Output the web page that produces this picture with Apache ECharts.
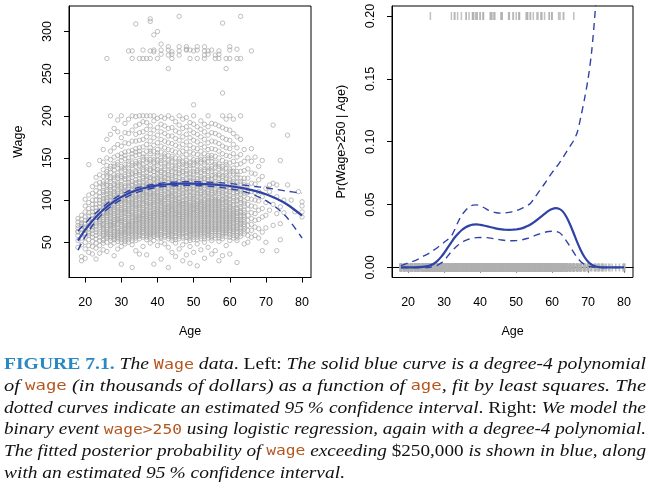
<!DOCTYPE html>
<html>
<head>
<meta charset="utf-8">
<script src="https://cdn.jsdelivr.net/npm/echarts@6.0.0/dist/echarts.min.js"></script>
<style>
  html, body { margin: 0; padding: 0; background: #fff; }
  #chart { width: 649px; height: 491px; }
</style>
</head>
<body>
<div id="chart"></div>
<script>
// Wage data: each row is [age, wage, wage, ...]
const wagesAge18to29 = [
    [18, 44, 52, 58, 63, 67, 70, 74, 78, 62],
    [19, 28, 33, 47, 55, 61, 65, 69, 73, 77, 82, 71],
    [20, 31, 42, 50, 56, 60, 64, 68, 72, 76, 80, 86, 93, 101, 66],
    [21, 38, 46, 53, 58, 62, 66, 70, 73, 77, 81, 85, 90, 97, 106, 142, 60],
    [22, 36, 45, 51, 56, 60, 64, 67, 71, 74, 78, 82, 86, 90, 95, 100, 108, 116, 69],
    [23, 30, 43, 49, 54, 58, 62, 65, 69, 72, 75, 79, 83, 87, 91, 95, 100, 105, 111, 119, 127, 80],
    [24, 37, 46, 52, 56, 60, 63, 67, 70, 73, 77, 80, 84, 88, 92, 96, 100, 104, 109, 115, 121, 130, 147, 75],
    [25, 41, 49, 54, 58, 62, 65, 69, 72, 75, 79, 82, 86, 90, 94, 98, 102, 106, 111, 116, 122, 128, 136, 145, 160, 84],
    [26, 39, 50, 55, 59, 63, 67, 70, 73, 77, 80, 84, 88, 91, 95, 99, 103, 107, 112, 117, 122, 128, 134, 141, 150, 172, 86],
    [27, 46, 52, 57, 61, 64, 68, 71, 75, 78, 82, 85, 89, 93, 96, 100, 104, 108, 112, 117, 122, 127, 133, 140, 148, 158, 178, 200],
    [28, 34, 49, 55, 59, 63, 66, 70, 73, 77, 80, 84, 87, 91, 95, 98, 102, 106, 110, 114, 119, 124, 130, 136, 143, 151, 162, 185],
    [29, 42, 51, 56, 60, 64, 67, 71, 75, 78, 82, 85, 89, 93, 96, 100, 104, 108, 112, 117, 121, 126, 132, 138, 145, 153, 166, 181, 195]
];
const wagesAge30to44 = [
    [30, 24, 45, 53, 58, 62, 66, 69, 73, 76, 80, 83, 87, 91, 94, 98, 102, 106, 110, 114, 118, 123, 128, 134, 140, 147, 155, 164, 174, 200],
    [31, 48, 54, 59, 63, 66, 70, 74, 77, 81, 84, 88, 92, 95, 99, 103, 107, 111, 115, 120, 125, 130, 136, 142, 149, 157, 168, 180, 191],
    [32, 50, 56, 60, 64, 68, 71, 75, 79, 82, 86, 90, 93, 97, 101, 105, 109, 113, 117, 121, 126, 131, 137, 143, 150, 158, 167, 179, 196],
    [33, 20, 47, 55, 60, 64, 68, 72, 76, 79, 83, 87, 90, 94, 98, 102, 105, 109, 113, 117, 122, 127, 132, 138, 144, 151, 159, 170, 183, 200],
    [34, 40, 52, 58, 62, 66, 70, 74, 77, 81, 85, 88, 92, 96, 99, 103, 107, 111, 115, 119, 124, 129, 134, 140, 146, 153, 161, 170, 178, 188, 199],
    [35, 36, 54, 59, 63, 67, 71, 75, 78, 82, 86, 89, 93, 97, 100, 104, 108, 112, 116, 120, 125, 130, 135, 141, 147, 154, 162, 171, 180, 190, 200],
    [36, 45, 56, 61, 65, 68, 72, 76, 80, 83, 87, 91, 94, 98, 102, 105, 109, 113, 117, 121, 126, 131, 136, 142, 148, 155, 163, 172, 181, 193, 200],
    [37, 35, 53, 58, 62, 66, 70, 74, 78, 81, 85, 89, 92, 96, 100, 103, 107, 111, 115, 119, 124, 128, 133, 139, 145, 151, 158, 166, 175, 184, 192, 200],
    [38, 49, 57, 61, 65, 69, 73, 77, 80, 84, 88, 91, 95, 99, 102, 106, 110, 114, 118, 122, 127, 131, 137, 142, 148, 155, 162, 170, 179, 188, 200],
    [39, 24, 52, 59, 63, 67, 71, 75, 79, 82, 86, 90, 93, 97, 101, 104, 108, 112, 116, 120, 124, 129, 134, 139, 145, 151, 158, 165, 174, 183, 194, 200],
    [40, 46, 55, 60, 64, 68, 72, 76, 80, 84, 87, 91, 95, 98, 102, 106, 110, 114, 118, 122, 126, 131, 136, 141, 147, 153, 160, 168, 177, 186, 197],
    [41, 30, 50, 57, 62, 66, 70, 74, 78, 81, 85, 89, 92, 96, 100, 104, 107, 111, 115, 119, 124, 128, 133, 138, 144, 150, 157, 164, 172, 181, 190, 199],
    [42, 48, 56, 61, 65, 69, 73, 77, 81, 84, 88, 92, 96, 99, 103, 107, 111, 115, 119, 123, 127, 132, 137, 143, 149, 155, 162, 170, 179, 188, 197],
    [43, 20, 44, 54, 59, 63, 67, 71, 75, 79, 83, 86, 90, 94, 98, 101, 105, 109, 113, 117, 121, 126, 130, 135, 141, 147, 153, 160, 168, 176, 185, 200],
    [44, 38, 52, 58, 62, 66, 70, 74, 78, 82, 86, 89, 93, 97, 101, 104, 108, 112, 116, 120, 125, 129, 134, 140, 146, 152, 159, 167, 176, 186, 197]
];
const wagesAge45to59 = [
    [45, 33, 49, 56, 61, 65, 69, 73, 77, 81, 84, 88, 92, 96, 99, 103, 107, 111, 115, 119, 123, 128, 133, 138, 144, 150, 157, 165, 173, 182, 193],
    [46, 42, 54, 60, 64, 68, 72, 76, 80, 83, 87, 91, 95, 98, 102, 106, 110, 114, 118, 122, 127, 132, 137, 143, 149, 156, 163, 171, 180, 189, 200],
    [47, 28, 47, 57, 62, 66, 70, 74, 78, 81, 85, 89, 93, 96, 100, 104, 108, 112, 116, 120, 124, 129, 134, 139, 145, 151, 158, 166, 175, 185, 196],
    [48, 35, 51, 58, 63, 67, 71, 75, 79, 83, 86, 90, 94, 98, 101, 105, 109, 113, 117, 121, 126, 131, 136, 141, 147, 154, 161, 169, 178, 187, 198],
    [49, 25, 45, 55, 60, 64, 68, 72, 76, 80, 84, 87, 91, 95, 99, 102, 106, 110, 114, 118, 123, 127, 132, 138, 144, 150, 157, 165, 174, 183, 192],
    [50, 38, 53, 59, 63, 67, 71, 75, 79, 83, 87, 90, 94, 98, 102, 105, 109, 113, 117, 122, 126, 131, 137, 142, 148, 155, 162, 171, 180, 190, 200, 213],
    [51, 22, 48, 56, 61, 65, 69, 73, 77, 81, 85, 88, 92, 96, 100, 104, 108, 112, 116, 120, 125, 130, 135, 141, 147, 154, 161, 169, 178, 187],
    [52, 41, 54, 60, 64, 68, 72, 76, 80, 84, 88, 92, 95, 99, 103, 107, 111, 115, 119, 124, 128, 133, 139, 145, 151, 158, 166, 175, 184, 194],
    [53, 31, 50, 57, 62, 66, 70, 74, 78, 82, 86, 89, 93, 97, 101, 105, 109, 113, 117, 121, 126, 131, 136, 142, 148, 155, 163, 172, 181, 190],
    [54, 44, 55, 60, 64, 68, 72, 76, 80, 84, 88, 92, 96, 100, 104, 108, 112, 116, 120, 124, 129, 134, 140, 146, 153, 160, 168, 177, 187, 200],
    [55, 36, 52, 58, 63, 67, 71, 75, 79, 83, 87, 91, 95, 99, 103, 107, 111, 115, 119, 124, 129, 134, 140, 146, 153, 161, 170, 180, 191],
    [56, 40, 55, 61, 65, 69, 73, 77, 81, 85, 89, 93, 97, 101, 105, 109, 113, 118, 122, 127, 133, 139, 145, 152, 160, 169, 179, 190],
    [57, 28, 51, 58, 63, 67, 71, 75, 79, 83, 87, 91, 95, 99, 103, 108, 112, 116, 121, 126, 131, 137, 143, 150, 158, 167, 177, 188],
    [58, 34, 54, 60, 64, 68, 72, 76, 80, 84, 88, 92, 97, 101, 105, 109, 114, 118, 123, 128, 134, 140, 147, 155, 164, 174, 186, 200, 227],
    [59, 46, 57, 62, 66, 70, 74, 78, 82, 86, 90, 94, 99, 103, 107, 112, 116, 121, 126, 132, 138, 145, 153, 162, 172, 184, 196]
];
const wagesAge60to80 = [
    [60, 36, 52, 59, 64, 68, 72, 76, 80, 84, 88, 93, 97, 101, 106, 110, 115, 120, 125, 131, 137, 144, 152, 161, 171, 183, 200],
    [61, 55, 61, 65, 69, 74, 78, 82, 86, 90, 95, 99, 104, 109, 114, 119, 125, 131, 138, 146, 155, 166, 179, 196],
    [62, 26, 52, 58, 63, 68, 73, 77, 82, 86, 91, 95, 100, 105, 110, 115, 121, 127, 134, 142, 151, 162, 175],
    [63, 57, 63, 68, 73, 77, 82, 87, 92, 97, 102, 107, 113, 119, 126, 134, 143, 154, 172, 200],
    [64, 48, 60, 66, 71, 77, 82, 88, 93, 99, 105, 111, 118, 126, 135, 146, 160],
    [65, 50, 58, 64, 70, 76, 82, 89, 95, 102, 109, 117, 126, 137, 150],
    [66, 56, 64, 71, 78, 85, 93, 101, 110, 120, 132, 146, 161],
    [67, 58, 68, 76, 84, 92, 100, 109, 119, 131, 151],
    [68, 55, 66, 77, 88, 99, 110, 124, 140],
    [69, 40, 62, 80, 90, 104, 128, 147],
    [70, 50, 67, 82, 97, 114],
    [71, 88, 110, 118],
    [72, 70, 95, 120, 189],
    [73, 40, 84, 104, 118],
    [74, 53, 72, 92, 147],
    [75, 85, 100],
    [76, 118, 177],
    [77, 100],
    [78, 86],
    [79, 110],
    [80, 80, 86, 93, 98]
];
// the crowded middle of the cloud, more points per age
const wagesCrowdAge25to44 = [
    [25, 52, 60, 67, 71, 77, 85, 92, 100, 109, 119],
    [26, 57, 61, 65, 75, 82, 86, 93, 101, 110, 119, 131],
    [27, 55, 59, 66, 70, 73, 80, 87, 91, 98, 106, 115, 125, 137],
    [28, 53, 57, 61, 68, 72, 75, 82, 89, 93, 100, 108, 117, 127, 140],
    [29, 54, 58, 62, 66, 73, 77, 80, 87, 91, 98, 102, 110, 119, 129, 142],
    [30, 50, 56, 60, 64, 71, 75, 78, 85, 89, 96, 100, 108, 116, 126, 137, 151],
    [31, 51, 57, 61, 65, 68, 72, 79, 86, 90, 97, 101, 109, 117, 128, 139, 153],
    [32, 53, 58, 62, 66, 70, 73, 77, 84, 88, 95, 99, 107, 115, 124, 134, 146],
    [33, 52, 58, 62, 66, 70, 74, 81, 85, 92, 96, 100, 107, 111, 119, 130, 141, 155],
    [34, 55, 60, 64, 68, 72, 76, 79, 83, 90, 94, 101, 105, 113, 121, 132, 143, 157],
    [35, 57, 61, 65, 69, 73, 77, 80, 84, 91, 95, 102, 106, 114, 122, 133, 144, 158],
    [36, 58, 63, 67, 70, 74, 78, 82, 85, 89, 96, 100, 107, 111, 119, 128, 139, 151],
    [37, 56, 60, 64, 68, 72, 76, 80, 83, 87, 94, 98, 105, 109, 117, 126, 136, 148],
    [38, 55, 59, 63, 67, 71, 75, 79, 82, 86, 93, 97, 104, 108, 116, 125, 135, 145, 158],
    [39, 57, 61, 65, 69, 73, 77, 81, 84, 88, 95, 99, 106, 110, 118, 126, 137, 148],
    [40, 58, 62, 66, 70, 74, 78, 82, 86, 89, 93, 100, 104, 108, 116, 124, 133, 144, 156],
    [41, 55, 59, 64, 68, 72, 76, 80, 83, 87, 94, 98, 102, 109, 117, 126, 135, 147],
    [42, 58, 63, 67, 71, 75, 79, 83, 86, 90, 94, 101, 105, 113, 121, 130, 140, 152],
    [43, 57, 61, 65, 69, 73, 77, 81, 85, 88, 92, 96, 103, 107, 115, 124, 133, 144],
    [44, 55, 60, 64, 68, 72, 76, 80, 84, 88, 91, 95, 99, 106, 110, 118, 127, 137, 149]
];
const wagesCrowdAge45to64 = [
    [45, 53, 58, 63, 67, 71, 75, 79, 83, 86, 90, 94, 101, 105, 113, 121, 131, 141],
    [46, 57, 62, 66, 70, 74, 78, 82, 85, 89, 93, 97, 100, 108, 116, 125, 135, 146],
    [47, 55, 60, 64, 68, 72, 76, 80, 83, 87, 91, 95, 98, 106, 114, 122, 132, 142],
    [48, 56, 61, 65, 69, 73, 77, 81, 85, 88, 92, 96, 100, 107, 115, 124, 134, 144],
    [49, 52, 58, 62, 66, 70, 74, 78, 82, 86, 89, 93, 97, 104, 112, 121, 130, 141],
    [50, 56, 61, 65, 69, 73, 77, 81, 85, 89, 92, 96, 100, 107, 115, 124, 134, 145],
    [51, 53, 59, 63, 67, 71, 75, 79, 83, 87, 90, 94, 98, 106, 114, 122, 133, 144],
    [52, 57, 62, 66, 70, 74, 78, 82, 86, 90, 94, 97, 101, 109, 117, 126, 136, 148],
    [53, 54, 60, 64, 68, 72, 76, 80, 84, 88, 91, 95, 99, 107, 115, 124, 134, 145],
    [54, 58, 62, 66, 70, 74, 78, 82, 86, 90, 94, 98, 102, 110, 118, 127, 137, 150],
    [55, 55, 61, 65, 69, 73, 77, 81, 85, 89, 93, 97, 101, 109, 117, 126, 137, 150],
    [56, 58, 63, 67, 71, 75, 79, 83, 87, 91, 95, 99, 103, 111, 120, 130, 142],
    [57, 55, 61, 65, 69, 73, 77, 81, 85, 89, 93, 97, 101, 110, 119, 129, 140],
    [58, 57, 62, 66, 70, 74, 78, 82, 86, 90, 95, 99, 107, 116, 126, 137],
    [59, 60, 64, 68, 72, 76, 80, 84, 88, 92, 97, 101, 110, 119, 129, 142],
    [60, 56, 62, 66, 70, 74, 78, 82, 86, 91, 95, 104, 113, 123, 134],
    [61, 58, 63, 67, 72, 76, 80, 84, 88, 93, 102, 112, 122, 134],
    [62, 55, 61, 66, 70, 75, 80, 84, 89, 98, 108, 118, 130],
    [63, 60, 66, 71, 75, 80, 85, 90, 100, 110, 122],
    [64, 63, 69, 74, 80, 85, 96, 108, 121]
];
// wage > 250 : [age, wage]
const highEarners = [
    [34, 309], [38, 315], [38, 312], [39, 296], [40, 300], [41, 285], [46, 318], [58, 310], [63, 318],
    [32, 277], [33, 277], [36, 278], [38, 277], [39, 276], [39, 278], [41, 278], [43, 278], [44, 276],
    [46, 277], [48, 278], [48, 279], [49, 278], [50, 277], [51, 278], [53, 277], [54, 277], [55, 278],
    [57, 277], [60, 278], [62, 279], [66, 277],
    [43, 282], [46, 282], [48, 282], [51, 282], [53, 282], [60, 282],
    [26, 268], [33, 268], [35, 268], [36, 268], [37, 268], [38, 268], [40, 268], [44, 268], [49, 268],
    [51, 268], [53, 268], [56, 268], [57, 268], [59, 268], [60, 268], [62, 268], [63, 268],
    [41, 273], [43, 272], [44, 273], [46, 272], [53, 272], [54, 273], [56, 272], [57, 273],
    [43, 256], [59, 256]
];

// degree-4 polynomial fit (left)
const fitAges = [18, 20, 22, 25, 28, 31, 34, 37, 40, 43, 46, 49, 52, 55, 58, 61, 64, 67, 70, 73, 76, 80];
const fitWage = [51.9, 64.6, 75.4, 88.5, 98.5, 105.9, 111.3, 114.9, 117.4, 118.8, 119.5, 119.6, 119.3, 118.6, 117.6, 116.0, 113.9, 110.9, 107.0, 101.6, 94.5, 81.6];
const fitUpper = [63.1, 72.6, 81.0, 92.3, 101.7, 108.9, 114.1, 117.3, 119.6, 121.0, 121.7, 121.8, 121.5, 121.0, 120.4, 119.2, 117.7, 116.1, 114.6, 112.6, 110.5, 108.2];
const fitLower = [40.7, 56.6, 69.8, 84.7, 95.3, 102.9, 108.5, 112.5, 115.2, 116.6, 117.3, 117.4, 117.1, 116.2, 114.8, 112.8, 110.1, 105.7, 99.4, 90.6, 78.5, 55.0];

// logistic fit Pr(wage > 250 | age) (right), one value per year 18..80
const probAges = [18, 19, 20, 21, 22, 23, 24, 25, 26, 27, 28, 29, 30, 31, 32, 33, 34, 35, 36, 37, 38, 39, 40, 41, 42, 43, 44, 45, 46, 47, 48, 49,
    50, 51, 52, 53, 54, 55, 56, 57, 58, 59, 60, 61, 62, 63, 64, 65, 66, 67, 68, 69, 70, 71, 72, 73, 74, 75, 76, 77, 78, 79, 80];
const probFit = [0, 0, 0, 0, 0.0001, 0.0002, 0.0004, 0.0008, 0.0015, 0.0028, 0.0048, 0.0078, 0.0115, 0.0158, 0.0200, 0.0240,
    0.0272, 0.0300, 0.0320, 0.0333, 0.0340, 0.0342, 0.0339, 0.0334, 0.0327, 0.0320, 0.0313, 0.0307, 0.0303, 0.0300, 0.0299, 0.0300,
    0.0302, 0.0307, 0.0315, 0.0327, 0.0342, 0.0360, 0.0382, 0.0405, 0.0428, 0.0450, 0.0465, 0.0472, 0.0466, 0.0444, 0.0402, 0.0342,
    0.0272, 0.0200, 0.0135, 0.0083, 0.0046, 0.0022, 0.0009, 0.0003, 0.0001, 0, 0, 0, 0, 0, 0];
const probLower = [0, 0, 0, 0, 0, 0, 0, 0, 0.0002, 0.0007, 0.0015, 0.0032, 0.0055, 0.0090, 0.0125, 0.0155,
    0.0180, 0.0200, 0.0215, 0.0226, 0.0233, 0.0237, 0.0238, 0.0238, 0.0237, 0.0233, 0.0228, 0.0223, 0.0218, 0.0214, 0.0212, 0.0212,
    0.0213, 0.0217, 0.0222, 0.0230, 0.0240, 0.0251, 0.0262, 0.0272, 0.0280, 0.0286, 0.0288, 0.0287, 0.0278, 0.0250, 0.0210, 0.0165,
    0.0120, 0.0078, 0.0045, 0.0025, 0.0012, 0.0006, 0.0002, 0.0001, 0, 0, 0, 0, 0, 0, 0];
const upperAges = [18, 19, 20, 21, 22, 23, 24, 25, 26, 27, 28, 29, 30, 31, 32, 33, 34, 35, 36, 37, 38, 39, 40, 41, 42, 43, 44, 45,
    46, 47, 48, 49, 50, 51, 52, 53, 54, 55, 56, 57, 58, 59, 60, 61, 62, 63, 64, 65, 66, 67, 68, 69, 70, 71, 72, 73];
const probUpper = [0.0015, 0.0025, 0.0035, 0.0045, 0.0055, 0.0068, 0.0085, 0.0100, 0.0115, 0.0135, 0.0155, 0.0177, 0.0200, 0.0222,
    0.0250, 0.0305, 0.0370, 0.0420, 0.0455, 0.0483, 0.0496, 0.0498, 0.0492, 0.0477, 0.0460, 0.0447, 0.0438, 0.0433, 0.0432, 0.0434,
    0.0438, 0.0444, 0.0452, 0.0462, 0.0475, 0.0490, 0.0510, 0.0548, 0.0590, 0.0630, 0.0670, 0.0712, 0.0755, 0.0792, 0.0830, 0.0873,
    0.0920, 0.0965, 0.1010, 0.1075, 0.1200, 0.1340, 0.1500, 0.1720, 0.2050, 0.2500];

const xTicks = [20, 30, 40, 50, 60, 70, 80];
const wageTicks = [50, 100, 150, 200, 250, 300];
const probTicks = [0, 0.05, 0.10, 0.15, 0.20];

const captionLines = [
    [['b', 'FIGURE 7.1.'], ['i', ' The '], ['c', 'Wage'], ['i', ' data'], ['r', '. Left: '], ['i', 'The solid blue curve is a degree-4 polynomial']],
    [['i', 'of '], ['c', 'wage'], ['i', ' (in thousands of dollars) as a function of '], ['c', 'age'], ['i', ', fit by least squares. The']],
    [['i', 'dotted curves indicate an estimated 95\u2009% confidence interval'], ['r', '. Right: '], ['i', 'We model the']],
    [['i', 'binary event '], ['c', 'wage>250'], ['i', ' using logistic regression, again with a degree-4 polynomial.']],
    [['i', 'The fitted posterior probability of '], ['c', 'wage'], ['i', ' exceeding '], ['r', '$250,000'], ['i', ' is shown in blue, along']],
    [['i', 'with an estimated 95\u2009% confidence interval.']]
];

const BLUE = '#2f43a6';
const GREY = '#a6a6a6';
const FONT = '"Liberation Sans", Arial, sans-serif';

// build scatter + rugs
const mainPoints = [];
const rugBottom = [];
[wagesAge18to29, wagesAge30to44, wagesAge45to59, wagesAge60to80, wagesCrowdAge25to44, wagesCrowdAge45to64].forEach(rows => {
    rows.forEach(row => {
        const age = row[0];
        row.slice(1).forEach((w, i) => {
            mainPoints.push([age, w]);
            // jitter(age): spread marks within +-0.3 years
            rugBottom.push([age + (((i * 0.618) % 1) - 0.5) * 0.6, 0]);
        });
    });
});
const rugTop = highEarners.map((p, i) => [p[0] + (((i * 0.618) % 1) - 0.5) * 0.5, 0.2]);

const pairs = (xs, ys) => xs.map((x, i) => [x, ys[i]]);

function xAxis(gridIndex) {
    return {
        type: 'value', gridIndex: gridIndex, min: 15.52, max: 82.48,
        name: 'Age', nameLocation: 'middle', nameGap: 48,
        nameTextStyle: { fontFamily: FONT, fontSize: 12.5, color: '#000' },
        axisLine: { show: true, lineStyle: { color: '#000', width: 1 } },
        axisTick: { show: true, length: 5, customValues: xTicks, lineStyle: { color: '#000' } },
        axisLabel: { customValues: xTicks, margin: 19, fontFamily: FONT, fontSize: 12.5, color: '#000' },
        splitLine: { show: false }
    };
}

function yAxis(gridIndex, min, max, ticks, name, fmt) {
    return {
        type: 'value', gridIndex: gridIndex, min: min, max: max,
        name: name, nameLocation: 'middle', nameGap: 44, nameRotate: 90,
        nameTextStyle: { fontFamily: FONT, fontSize: 12.5, color: '#000' },
        axisLine: { show: true, lineStyle: { color: '#000', width: 1 } },
        axisTick: { show: true, length: 5, customValues: ticks, lineStyle: { color: '#000' } },
        axisLabel: { customValues: ticks, rotate: 90, margin: 15, fontFamily: FONT, fontSize: 12.5, color: '#000', formatter: fmt },
        splitLine: { show: false }
    };
}

const lineSeries = (xi, yi, data, width, dashed) => ({
    type: 'line', xAxisIndex: xi, yAxisIndex: yi, data: data,
    smooth: 0.3, showSymbol: false, symbol: 'none', clip: true, z: 5,
    lineStyle: { color: BLUE, width: width, type: dashed ? [7, 5] : 'solid' }
});

// caption lines, stretched to the text block width
const fonts = {
    b: { fontFamily: '"Liberation Serif", serif', fontWeight: 'bold', fontSize: 16.5, fill: '#2a88c2' },
    i: { fontFamily: '"Liberation Serif", serif', fontStyle: 'italic', fontSize: 16.5, fill: '#111' },
    r: { fontFamily: '"Liberation Serif", serif', fontSize: 16.5, fill: '#111' },
    c: { fontFamily: '"DejaVu Sans Mono", monospace', fontSize: 14, fill: '#b5561f' }
};
const ctx = document.createElement('canvas').getContext('2d');
function segWidth(seg) {
    const f = fonts[seg[0]];
    ctx.font = (f.fontStyle || 'normal') + ' ' + (f.fontWeight || 'normal') + ' ' + f.fontSize + 'px ' + f.fontFamily;
    return ctx.measureText(seg[1]).width;
}
const lineY = [365, 386.7, 408.4, 430, 451.7, 473.4];
const captionGraphics = captionLines.map((segs, k) => {
    const natural = segs.reduce((s, seg) => s + segWidth(seg), 0);
    const target = k < captionLines.length - 1 ? 642 : 341;
    return {
        type: 'text', x: 4, y: lineY[k], scaleX: target / natural,
        style: {
            text: segs.map(seg => '{' + seg[0] + '|' + seg[1] + '}').join(''),
            rich: fonts, verticalAlign: 'middle', align: 'left'
        }
    };
});

const chart = echarts.init(document.getElementById('chart'), null, { renderer: 'canvas' });
chart.setOption({
    animation: false,
    backgroundColor: '#fff',
    grid: [
        { left: 69, top: 6, width: 242, height: 271.5, show: true, borderColor: '#000', borderWidth: 1, backgroundColor: 'transparent' },
        { left: 392, top: 6, width: 241, height: 271.5, show: true, borderColor: '#000', borderWidth: 1, backgroundColor: 'transparent' }
    ],
    xAxis: [xAxis(0), xAxis(1)],
    yAxis: [
        yAxis(0, 8.16, 330.27, wageTicks, 'Wage', v => String(v)),
        yAxis(1, -0.008, 0.208, probTicks, 'Pr(Wage>250 | Age)', v => v.toFixed(2))
    ],
    series: [
        {
            type: 'scatter', xAxisIndex: 0, yAxisIndex: 0, data: mainPoints.concat(highEarners),
            symbol: 'circle', symbolSize: 4.4, z: 2,
            itemStyle: { color: 'rgba(0,0,0,0)', borderColor: GREY, borderWidth: 0.9 }
        },
        lineSeries(0, 0, pairs(fitAges, fitWage), 2.2, false),
        lineSeries(0, 0, pairs(fitAges, fitUpper), 1.4, true),
        lineSeries(0, 0, pairs(fitAges, fitLower), 1.4, true),
        {
            type: 'scatter', xAxisIndex: 1, yAxisIndex: 1, data: rugBottom.concat(rugTop),
            symbol: 'rect', symbolSize: [1.5, 8], z: 2,
            itemStyle: { color: '#b0b0b0' }
        },
        lineSeries(1, 1, pairs(probAges, probFit), 2.2, false),
        lineSeries(1, 1, pairs(upperAges, probUpper), 1.4, true),
        lineSeries(1, 1, pairs(probAges, probLower), 1.4, true)
    ],
    graphic: captionGraphics
});
</script>
</body>
</html>
